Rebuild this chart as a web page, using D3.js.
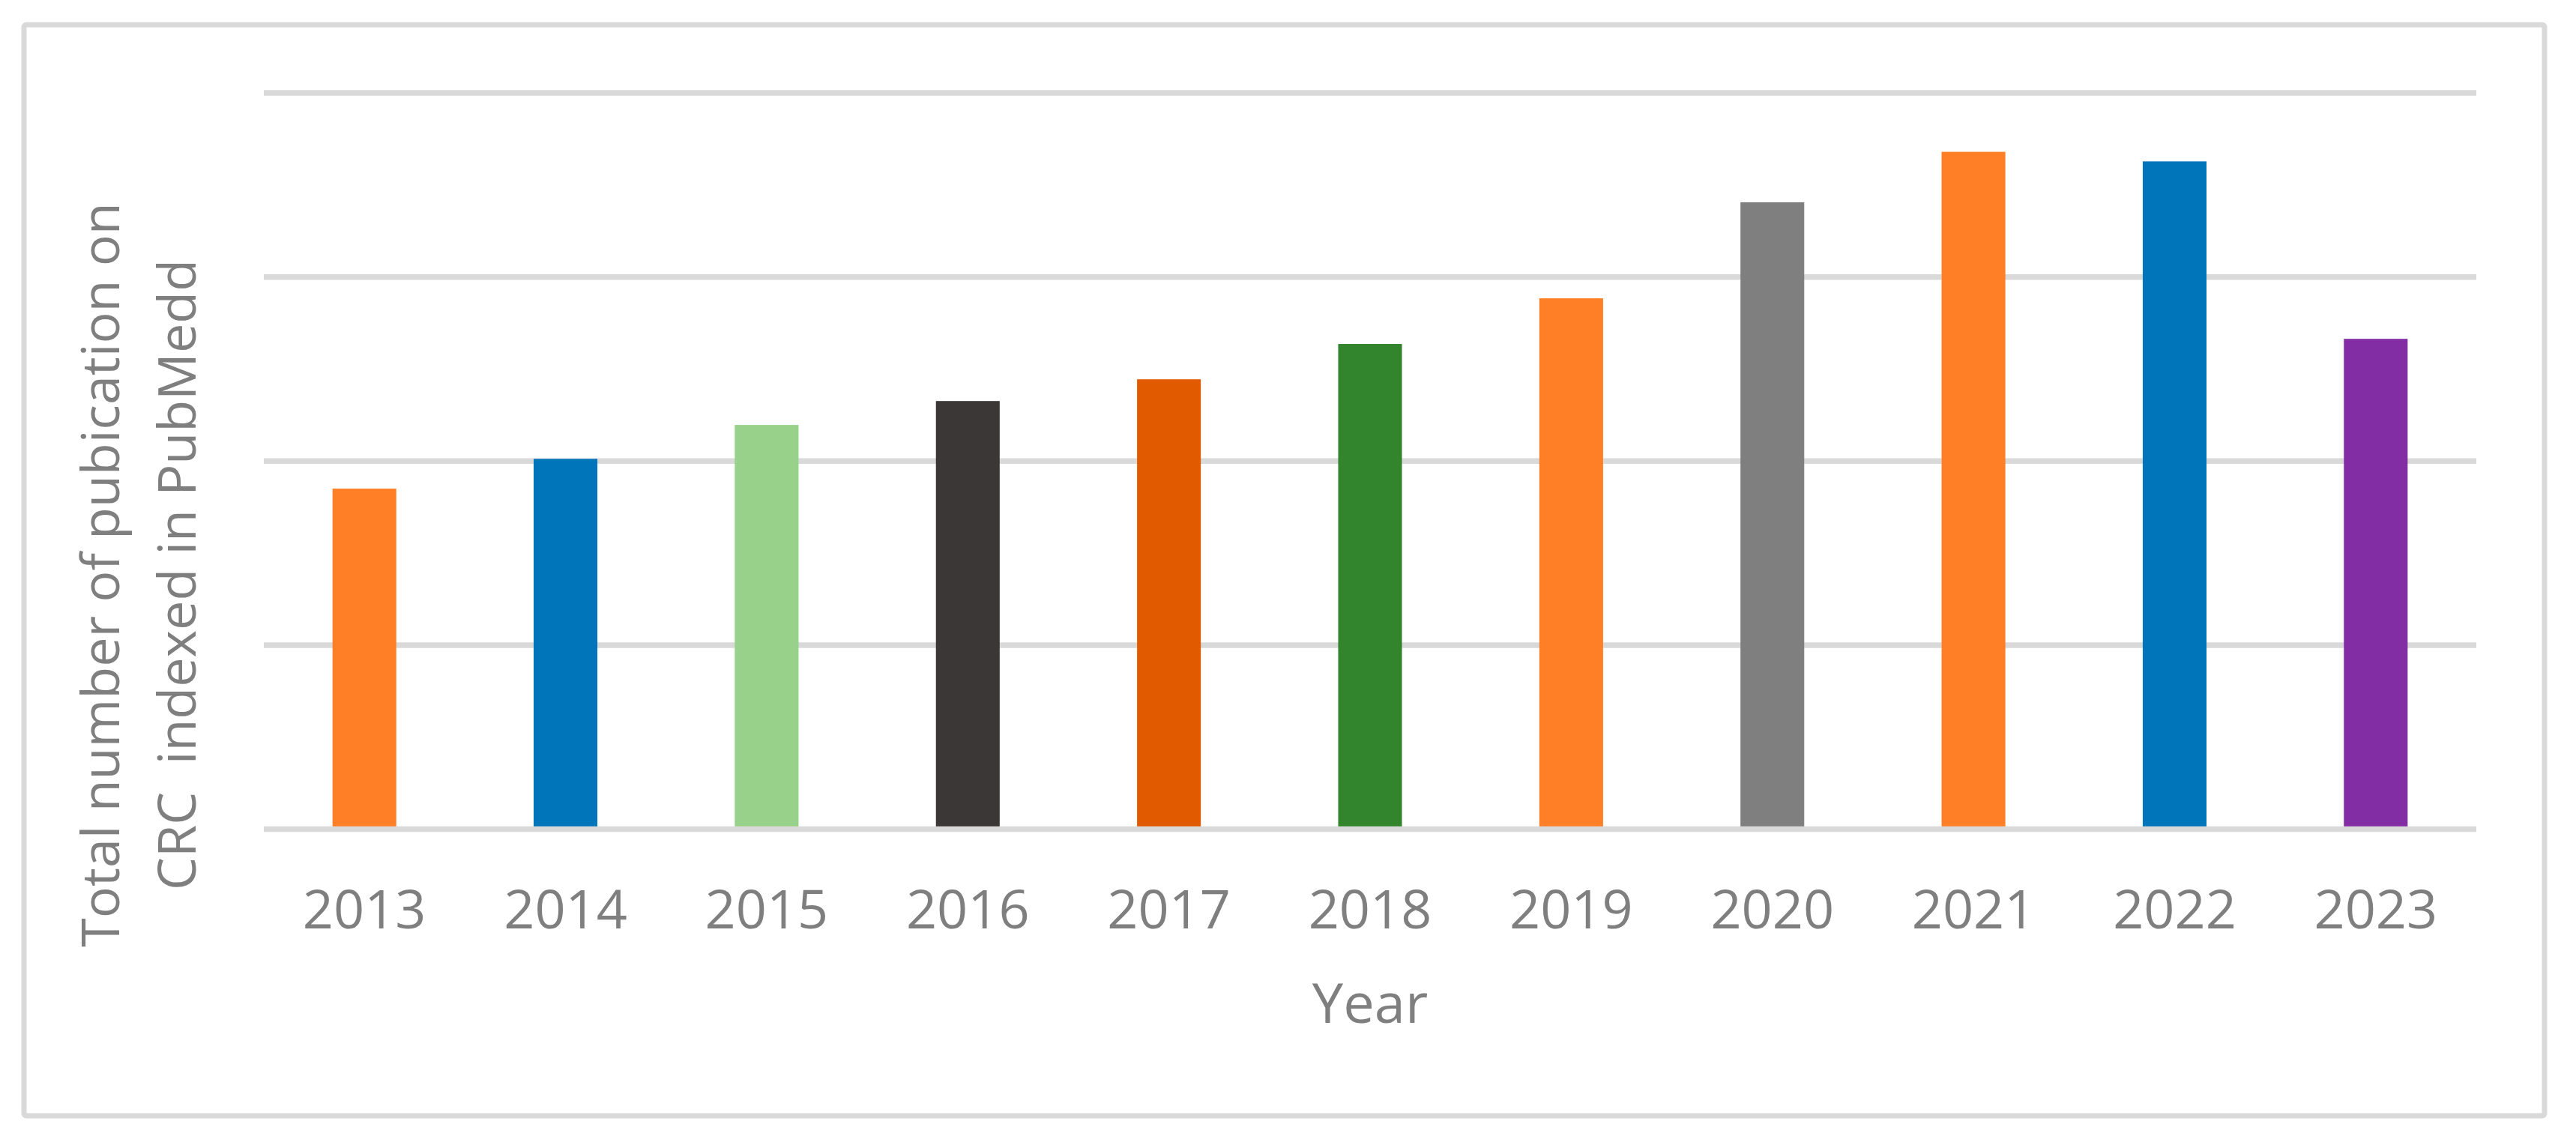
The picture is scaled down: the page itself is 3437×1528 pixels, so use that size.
<!DOCTYPE html>
<html>
<head>
<meta charset="utf-8">
<script src="https://cdn.jsdelivr.net/npm/d3@7"></script>
<style>
  html, body { margin: 0; padding: 0; background: #ffffff; }
  svg { display: block; }
  text { font-family: "Open Sans", "Noto Sans", sans-serif; fill: #7f7f7f; }
</style>
</head>
<body>
<svg id="chart" width="3437" height="1528"></svg>
<script>
// ---- data ----
const years = ["2013", "2014", "2015", "2016", "2017", "2018", "2019", "2020", "2021", "2022", "2023"];
const publications = [9250, 10060, 10980, 11630, 12220, 13180, 14420, 17030, 18400, 18140, 13320];
const barColors = ["#ff7f27", "#0075ba", "#98d28a", "#3b3736", "#e15a00", "#32852c", "#ff7f27", "#7f7f7f", "#ff7f27", "#0075ba", "#822da4"];
const gridTicks = [0, 5000, 10000, 15000, 20000];
const xTitle = "Year";
const yTitleLines = ["Total number of pubication on", "CRC  indexed in PubMedd"];

// ---- layout ----
const W = 3437, H = 1528;
const plot = { left: 352, right: 3304, top: 124, bottom: 1106.5 };
const svg = d3.select("#chart");

svg.append("rect").attr("x", 0).attr("y", 0).attr("width", W).attr("height", H).attr("fill", "#ffffff");

// outer border
svg.append("rect")
  .attr("x", 32).attr("y", 33).attr("width", 3363).attr("height", 1456)
  .attr("rx", 3).attr("fill", "none").attr("stroke", "#d9d9d9").attr("stroke-width", 7);

const x = d3.scaleBand().domain(years).range([plot.left, plot.right])
  .paddingInner(0.683).paddingOuter(0.3415);
const y = d3.scaleLinear().domain([0, 20000]).range([plot.bottom, plot.top]);

// gridlines (except baseline)
svg.append("g").selectAll("line").data(gridTicks.filter(d => d > 0)).join("line")
  .attr("x1", plot.left).attr("x2", plot.right)
  .attr("y1", d => y(d)).attr("y2", d => y(d))
  .attr("stroke", "#d9d9d9").attr("stroke-width", 7.5);

// bars
svg.append("g").selectAll("rect").data(years).join("rect")
  .attr("x", d => x(d))
  .attr("width", x.bandwidth())
  .attr("y", (d, i) => y(publications[i]))
  .attr("height", (d, i) => y(0) - y(publications[i]))
  .attr("fill", (d, i) => barColors[i]);

// x axis
const xAxis = d3.axisBottom(x).tickSize(0).tickPadding(0);
const gx = svg.append("g").attr("transform", `translate(0,${plot.bottom})`).call(xAxis);
gx.select(".domain").attr("d", `M${plot.left},0H${plot.right}`)
  .attr("stroke", "#d9d9d9").attr("stroke-width", 7.5);
gx.selectAll(".tick text")
  .attr("dy", null).attr("y", 1239 - plot.bottom)
  .attr("font-size", 72).attr("fill", "#7f7f7f")
  .style("font-family", '"Open Sans", "Noto Sans", sans-serif');

// axis titles
svg.append("text")
  .attr("x", (plot.left + plot.right) / 2).attr("y", 1365)
  .attr("text-anchor", "middle").attr("font-size", 74)
  .text(xTitle);

const yt = svg.append("g");
const lineX = [159, 261];
yTitleLines.forEach((t, i) => {
  yt.append("text")
    .attr("transform", `translate(${lineX[i]},767) rotate(-90)`)
    .attr("text-anchor", "middle").attr("font-size", 70)
    .attr("xml:space", "preserve").style("white-space", "pre")
    .text(t);
});
</script>
</body>
</html>
